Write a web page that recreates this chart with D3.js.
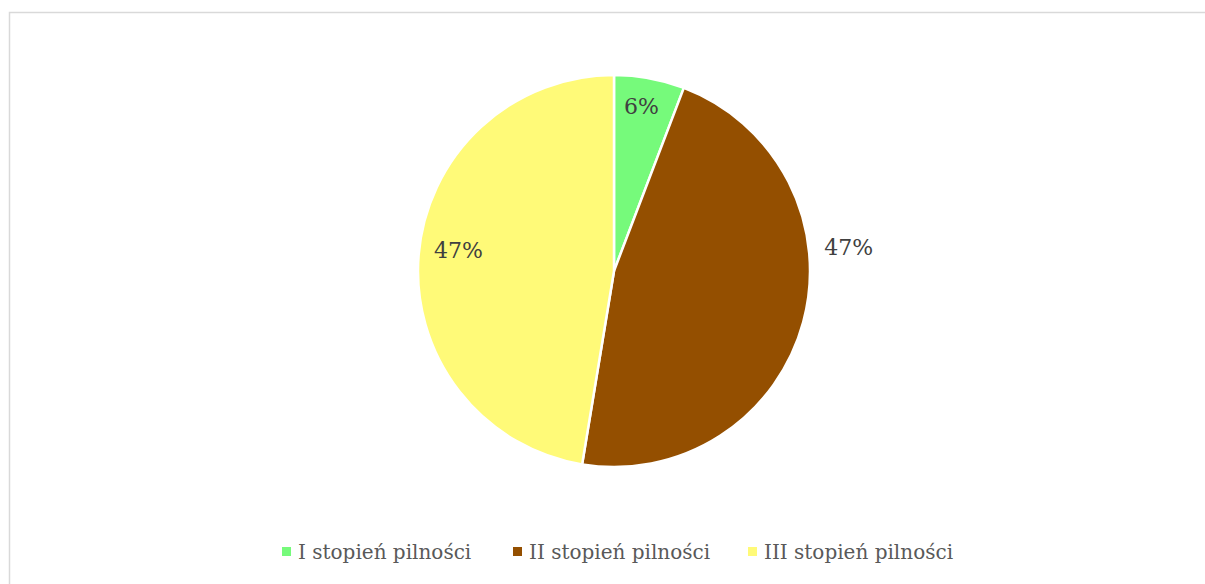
<!DOCTYPE html>
<html><head><meta charset="utf-8">
<script src="https://cdn.jsdelivr.net/npm/d3@7"></script>
<style>body{margin:0;background:#fff}svg{display:block}</style>
</head><body>
<svg id="c" width="1205" height="584"></svg>
<script>
const categories = ["I stopień pilności", "II stopień pilności", "III stopień pilności"];
const values = [5.8, 46.8, 47.4];
const colors = ["#76FA7B", "#944F00", "#FFFA78"];

const svg = d3.select("#c");
const W = 1205, H = 584;
const font = "'DejaVu Serif', 'Liberation Serif', serif";

svg.append("rect").attr("x", 9.5).attr("y", 12.5).attr("width", W + 20).attr("height", H + 20)
  .attr("fill", "#fff").attr("stroke", "#d9d9d9").attr("stroke-width", 1.5);

const cx = 614, cy = 271, r = 196;
const pie = d3.pie().sort(null).value(d => d);
const arcs = pie(values);
const arc = d3.arc().innerRadius(0).outerRadius(r);
const g = svg.append("g").attr("transform", `translate(${cx},${cy})`);
g.selectAll("path").data(arcs).enter().append("path")
  .attr("d", arc).attr("fill", (d, i) => colors[i])
  .attr("stroke", "#fff").attr("stroke-width", 2.5).attr("stroke-linejoin", "round");

const total = d3.sum(values);
// label placement: [radius, angle offset in degrees]
const place = [[167, -1], [236, -21], [157, 3]];
g.selectAll("text.lbl").data(arcs).enter().append("text")
  .attr("class", "lbl")
  .each(function (d, i) {
    const a = (d.startAngle + d.endAngle) / 2 + place[i][1] * Math.PI / 180;
    const rr = place[i][0];
    d3.select(this).attr("x", rr * Math.sin(a)).attr("y", -rr * Math.cos(a));
  })
  .attr("text-anchor", "middle").attr("dy", "0.35em")
  .attr("font-family", font).attr("font-size", 22).attr("fill", "#404040")
  .text(d => Math.round(d.data / total * 100) + "%");

// legend
const legX = [282, 513, 748];
const leg = svg.append("g");
categories.forEach((c, i) => {
  leg.append("rect").attr("x", legX[i]).attr("y", 547).attr("width", 9).attr("height", 9).attr("fill", colors[i]);
  leg.append("text").attr("x", legX[i] + 16).attr("y", 559)
    .attr("font-family", font).attr("font-size", 20).attr("fill", "#595959").text(c);
});
</script>
</body></html>
